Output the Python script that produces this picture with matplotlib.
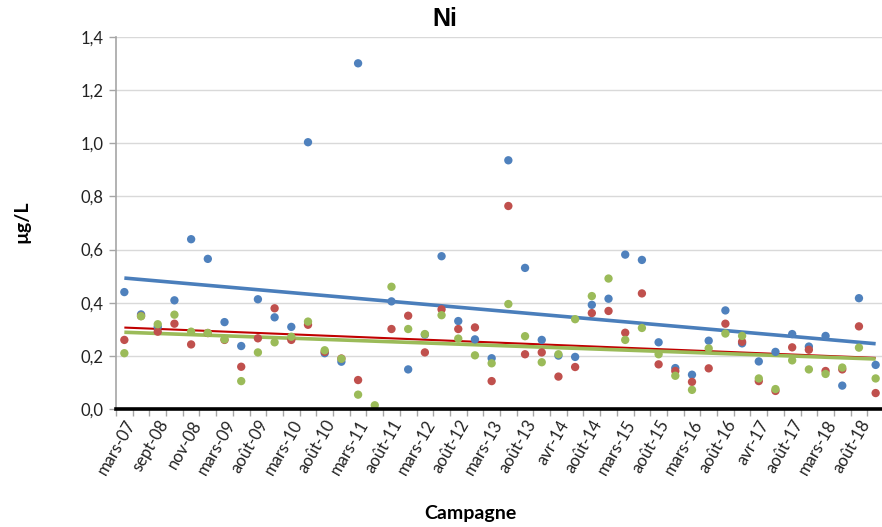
import numpy as np
import matplotlib
matplotlib.use("Agg")
import matplotlib.pyplot as plt
from matplotlib.ticker import FixedLocator, FuncFormatter

tick_labels = ["mars-07", "sept-08", "nov-08", "mars-09", "août-09", "mars-10",
               "août-10", "mars-11", "août-11", "mars-12", "août-12", "mars-13",
               "août-13", "avr-14", "août-14", "mars-15", "août-15", "mars-16",
               "août-16", "avr-17", "août-17", "mars-18", "août-18"]

nan = np.nan
blue = [0.440, 0.356, 0.309, 0.409, 0.639, 0.565, 0.327, 0.237, 0.413, 0.345,
        0.309, 1.004, 0.210, 0.178, 1.301, nan, 0.405, 0.149, 0.280, 0.575,
        0.331, 0.262, 0.191, 0.936, 0.531, 0.260, 0.201, 0.196, 0.392, 0.415,
        0.581, 0.561, 0.251, 0.154, 0.129, 0.257, 0.371, 0.247, 0.179, 0.215,
        0.282, 0.235, 0.275, 0.088, 0.417, 0.166]
red = [0.260, 0.350, 0.291, 0.321, 0.243, 0.286, 0.260, 0.159, 0.266, 0.379,
       0.260, 0.317, 0.215, 0.190, 0.109, nan, 0.301, 0.351, 0.213, 0.375,
       0.301, 0.307, 0.105, 0.764, 0.206, 0.213, 0.122, 0.158, 0.361, 0.369,
       0.287, 0.435, 0.168, 0.143, 0.102, 0.153, 0.321, 0.253, 0.105, 0.068,
       0.232, 0.223, 0.143, 0.149, 0.311, 0.060]
green = [0.210, 0.349, 0.319, 0.355, 0.291, 0.286, 0.262, 0.105, 0.213, 0.251,
         0.272, 0.329, 0.221, 0.189, 0.054, 0.014, 0.460, 0.301, 0.282, 0.353,
         0.265, 0.202, 0.172, 0.395, 0.274, 0.176, 0.206, 0.338, 0.425, 0.491,
         0.260, 0.305, 0.206, 0.125, 0.072, 0.228, 0.284, 0.275, 0.115, 0.075,
         0.183, 0.149, 0.132, 0.156, 0.231, 0.115]

series = [(blue, "#4F81BD", "#4A7EBB", 2.6),
          (red, "#C0504D", "#C00000", 1.5),
          (green, "#9BBB59", "#9BBB59", 2.6)]

BODY = ["Lato", "DejaVu Sans"]

fig = plt.figure(figsize=(8.82, 5.27), dpi=100)
ax = fig.add_axes([116 / 882, 118 / 527, 768 / 882, 372 / 527])

n = len(blue)
x = np.arange(n)

for vals, mcol, lcol, lw in series:
    y = np.array(vals, dtype=float)
    m = ~np.isnan(y)
    a, b = np.polyfit(x[m], y[m], 1)
    ax.plot([x[0], x[-1]], [a * x[0] + b, a * x[-1] + b], color=lcol, lw=lw,
            zorder=2, solid_capstyle="butt")
for vals, mcol, lcol, lw in series:
    ax.scatter(x, vals, s=36, color=mcol, edgecolors="none", zorder=3)

ax.set_xlim(-0.5, n - 0.5)
ax.set_ylim(0, 1.4)

ax.set_yticks(np.arange(0, 1.41, 0.2))
ax.yaxis.set_major_formatter(FuncFormatter(lambda v, p: f"{v:.1f}".replace(".", ",")))
ax.grid(axis="y", color="#D9D9D9", lw=1.0, zorder=0)
ax.set_axisbelow(True)

ax.set_xticks(np.arange(0, n, 2))
ax.set_xticklabels(tick_labels, rotation=60, ha="right", va="top",
                   rotation_mode="anchor", fontsize=12, family=BODY, color="#222222")
ax.tick_params(axis="x", which="major", length=0, pad=6)
ax.xaxis.set_minor_locator(FixedLocator(np.arange(-0.5, n, 1)))
ax.tick_params(axis="x", which="minor", length=5, color="#A6A6A6", width=1)
ax.tick_params(axis="y", length=5, color="#A6A6A6", width=1, pad=4)
for lab in ax.get_yticklabels():
    lab.set_fontsize(12)
    lab.set_family(BODY)
    lab.set_color("#222222")

for s in ["top", "right"]:
    ax.spines[s].set_visible(False)
ax.spines["left"].set_color("#A6A6A6")
ax.spines["left"].set_linewidth(1.2)
ax.spines["bottom"].set_color("black")
ax.spines["bottom"].set_linewidth(2.6)
ax.spines["bottom"].set_zorder(4)

fig.text(445 / 882, 1 - 19 / 527, "Ni", ha="center", va="center",
         fontsize=18, fontweight="bold", family=["Liberation Sans", "DejaVu Sans"])
fig.text(22 / 882, 1 - 222 / 527, "µg/L", ha="center", va="center", rotation=90,
         fontsize=14, fontweight="bold", family=BODY)
fig.text(470 / 882, 1 - 513 / 527, "Campagne", ha="center", va="center",
         fontsize=14, fontweight="bold", family=BODY)

fig.savefig("out.png", dpi=100)
